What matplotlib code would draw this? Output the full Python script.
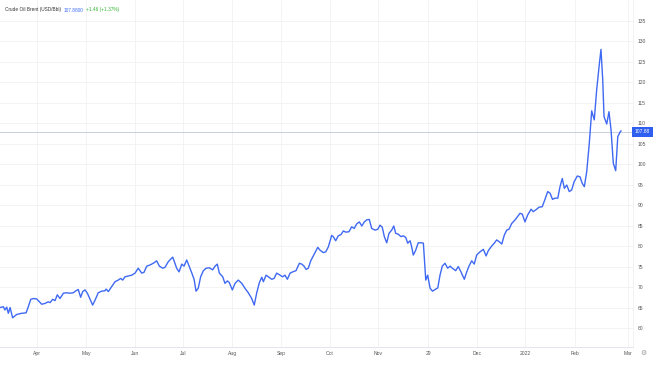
import matplotlib
matplotlib.use("Agg")
import matplotlib.pyplot as plt
import matplotlib.transforms as mtransforms

# ---- data (x = day offset from start of chart window, y = USD/Bbl) ----
days = [0, 2.1, 3.1, 4.2, 5.2, 6.3, 7.9, 10.4, 13.6, 16.3, 17.7, 19.2, 20.8, 22.9, 24.6,
        26.1, 28.1, 30.2, 31.3, 32.9, 34.4, 35.8, 37.5, 39.6, 41.7, 43.8, 45.8, 47.5, 48.9,
        50.4, 51.7, 53.1, 54.6, 56.3, 57.9, 59.4, 61.4, 63.6, 65.6, 66.3, 67.7, 69.8, 71.9,
        73.9, 75.4, 76.7, 78.1, 80.2, 82.3, 84.4, 86.4, 88.6, 90.0, 91.7, 93.8, 95.8, 97.9,
        99.6, 101.7, 103.1, 105.2, 106.7, 107.9, 108.8, 110.4, 111.9, 113.6, 115.0, 116.7,
        118.3, 119.8, 121.3, 122.5, 123.9, 125.4, 127.1, 128.8, 130.8, 132.9, 134.4, 135.8,
        137.1, 139.2, 140.6, 142.1, 143.3, 145.2, 146.9, 148.9, 151.1, 153.1, 155.2, 157.3,
        158.9, 160.4, 162.1, 163.6, 164.6, 166.3, 167.7, 169.8, 171.3, 172.9, 175.0, 176.7,
        178.1, 179.6, 181.3, 182.9, 185.0, 187.1, 188.6, 190.0, 191.3, 192.7, 194.2, 195.8,
        196.9, 198.6, 200.0, 202.1, 203.6, 205.2, 207.3, 208.3, 209.8, 211.4, 213.1, 214.6,
        216.1, 218.1, 219.8, 221.4, 222.9, 224.6, 226.1, 227.7, 229.2, 230.8, 232.3, 234.4,
        236.1, 237.5, 238.9, 240.2, 241.7, 243.1, 244.8, 246.1, 247.3, 248.9, 250.6, 252.1,
        253.6, 254.8, 256.3, 257.3, 258.3, 259.8, 261.4, 263.6, 264.6, 266.1, 267.3, 268.8,
        270.3, 271.9, 273.6, 275.0, 276.4, 278.1, 279.8, 281.3, 282.7, 284.8, 286.4, 288.1,
        290.2, 291.7, 293.1, 294.8, 296.4, 297.9, 300.0, 302.1, 303.8, 305.2, 307.3, 308.9,
        310.4, 311.9, 313.6, 315.2, 316.7, 318.1, 319.8, 321.9, 323.6, 325.0, 326.4, 328.1,
        329.8, 331.9, 333.3, 335.4, 336.9, 338.9, 340.6, 342.3, 343.8, 345.3, 346.9, 348.6,
        350.0, 351.4, 352.7, 354.2, 355.8, 357.3, 358.8, 360.8, 362.5, 363.9, 365.2, 366.7,
        368.3, 369.8, 371.4, 372.9, 374.4, 375.6, 376.7, 377.5, 379.2, 380.6, 381.9, 383.3,
        384.8, 386.1, 387.5, 388.1]

prices = [65.0, 65.2, 64.4, 65.1, 63.6, 65.0, 62.5, 63.3, 63.6, 63.7, 65.2, 67.0, 67.2, 67.1, 66.4,
          65.8, 66.0, 66.4, 66.2, 67.0, 66.7, 68.1, 67.2, 68.5, 68.6, 68.5, 68.6, 69.1, 69.4,
          67.5, 68.9, 69.3, 68.5, 67.0, 65.6, 66.8, 68.6, 69.0, 69.1, 69.5, 68.9, 70.1, 71.3,
          71.7, 72.1, 71.7, 72.5, 72.7, 72.9, 73.4, 74.6, 73.4, 73.6, 75.1, 75.4, 75.8, 76.4,
          75.1, 74.6, 74.8, 76.2, 76.8, 77.3, 76.4, 74.6, 73.7, 75.6, 75.1, 76.6,
          75.0, 73.5, 71.9, 69.0, 69.7, 72.5, 74.0, 74.6, 74.7, 74.2, 75.1, 75.6,
          73.4, 72.5, 70.9, 71.5, 71.1, 69.3, 70.9, 71.7, 70.9, 69.7, 68.6, 67.2,
          65.6, 68.5, 71.1, 72.4, 71.3, 72.9, 72.5, 71.9, 72.1, 73.4, 72.9, 72.5,
          72.9, 71.9, 73.4, 73.7, 74.0, 75.8, 75.6, 75.1, 74.3, 74.6, 76.4, 77.6,
          78.4, 79.7, 79.0, 78.4, 78.6, 79.8, 82.6, 82.3, 81.3, 82.5, 82.8, 83.7,
          83.4, 83.5, 84.7, 84.3, 85.4, 85.9, 84.9, 85.9, 86.4, 86.5, 84.3, 83.9,
          84.1, 85.1, 84.6, 82.3, 80.8, 83.1, 83.9, 84.9, 83.1, 82.9, 82.3, 82.5,
          82.1, 80.7, 81.3, 79.8, 77.8, 79.0, 80.8, 80.8, 80.7, 71.7, 72.9, 69.7,
          69.0, 69.4, 69.8, 72.9, 75.1, 75.8, 74.6, 75.1, 74.6, 74.0, 75.0, 73.7,
          71.9, 73.7, 75.1, 76.4, 75.6, 77.8, 78.6, 79.2, 77.6, 78.9, 80.0, 80.7,
          81.5, 81.1, 80.5, 82.7, 83.9, 84.1, 85.5, 86.4, 87.3, 88.0, 87.8, 85.9,
          87.6, 89.0, 88.4, 89.0, 89.5, 89.6, 91.4, 93.3, 92.9, 91.4, 91.7, 91.7,
          94.5, 96.5, 94.1, 94.9, 93.3, 93.7, 95.7, 97.1, 96.9, 95.3, 94.5, 98.2,
          105.1, 113.0, 110.8, 118.1, 123.8, 128.0, 120.5, 111.6, 109.8, 112.8, 108.3, 100.2,
          98.4, 106.7, 107.8, 108.1]

tick_days = [23.1, 53.8, 84.2, 114.6, 145.2, 175.6, 206.3, 236.4, 267.7, 298.1, 328.3, 359.4, 392.7]
tick_labels = ["Apr", "May", "Jun", "Jul", "Aug", "Sep", "Oct", "Nov", "29", "Dec", "2022", "Feb", "Mar"]
y_ticks = list(range(60, 136, 5))

last_price = 107.88
title_name = "Crude Oil Brent (USD/Bbl)"
title_price = "107.8800"
title_change = "+1.46 (+1.37%)"

plt.rcParams['font.family'] = ['Liberation Sans', 'DejaVu Sans']

W, H = 655, 368
fig = plt.figure(figsize=(W / 100, H / 100), dpi=100)
fig.patch.set_facecolor("white")

ax_left, ax_right, ax_top, ax_bottom = 0, 633.3, 0, 346.7
ax = fig.add_axes([ax_left / W, 1 - ax_bottom / H, (ax_right - ax_left) / W, (ax_bottom - ax_top) / H])

line_color = "#3f69f2"
ax.plot(days, prices, color=line_color, lw=1.0, solid_joinstyle="round", zorder=3)

ax.set_xlim(0, 395.8)
ax.set_ylim(55.44, 140.06)

ax.set_xticks(tick_days)
ax.set_xticklabels(tick_labels)
ax.set_yticks(y_ticks)
ax.yaxis.tick_right()
ax.tick_params(axis="both", length=0, labelsize=3.6, labelcolor="#555555")
ax.tick_params(axis="x", pad=3.0)
ax.tick_params(axis="y", pad=3.2)

ax.grid(True, color="#f1f1f1", lw=0.6, zorder=0)
for s in ["top", "left"]:
    ax.spines[s].set_visible(False)
ax.spines["bottom"].set_color("#e3e6ee")
ax.spines["bottom"].set_linewidth(0.7)
ax.spines["right"].set_color("#eef0f4")
ax.spines["right"].set_linewidth(0.6)

# last-price line and tag
ax.axhline(last_price, color="#c3c9dc", lw=0.6, zorder=2)
trans = mtransforms.blended_transform_factory(ax.transAxes, ax.transData)
ax.text(1.0025, last_price, f"{last_price:.2f}", transform=trans, ha="left", va="center",
        fontsize=3.6, color="white", clip_on=False,
        bbox=dict(boxstyle="square,pad=0.55", fc="#2f5ff0", ec="none"))

# title pieces, chained left to right
renderer = fig.canvas.get_renderer()
x_px = 5.0
gap_px = 2.5
for txt, col in [(title_name, "#333333"), (title_price, "#3d6cf5"), (title_change, "#2fb52f")]:
    t = fig.text(x_px / W, 1 - 10 / H, txt, fontsize=3.4, color=col, ha="left", va="center")
    bb = t.get_window_extent(renderer=renderer)
    x_px += bb.width + gap_px

# settings icon
fig.text(643 / W, 1 - 353 / H, "\u2699", fontsize=5, color="#999999", ha="center", va="center",
         family=["DejaVu Sans"])

fig.savefig("out.png", dpi=100, facecolor="white")
